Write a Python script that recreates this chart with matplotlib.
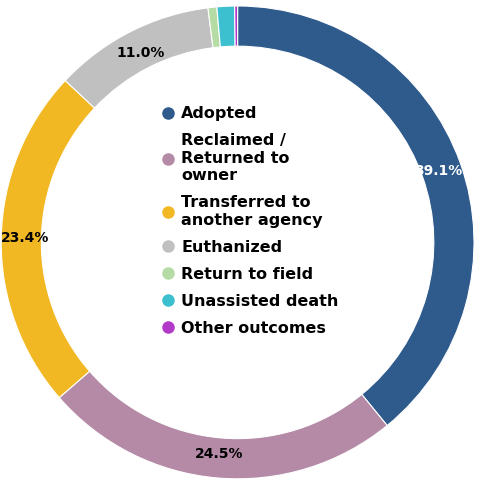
import matplotlib
matplotlib.use("Agg")
import matplotlib.pyplot as plt
from matplotlib.lines import Line2D
import numpy as np

labels = ["Adopted", "Reclaimed /\nReturned to\nowner", "Transferred to\nanother agency", "Euthanized",
          "Return to field", "Unassisted death", "Other outcomes"]
values = [39.1, 24.5, 23.4, 11.0, 0.6, 1.2, 0.2]
colors = ["#2e5a8c", "#b48aa7", "#f2b824", "#c0c0c0", "#b5dca5", "#3cbfcf", "#b23ac9"]
pct_labels = ["39.1%", "24.5%", "23.4%", "11.0%", "", "", ""]
pct_colors = ["white", "black", "black", "black", "black", "black", "black"]

fig = plt.figure(figsize=(4.8, 4.8), dpi=100)
ax = fig.add_axes([0.0, 0.0, 0.99, 0.99])
wedges, _ = ax.pie(values, colors=colors, startangle=90, counterclock=False,
                   wedgeprops=dict(width=0.17, edgecolor="white", linewidth=0.8))
for w, t, c in zip(wedges, pct_labels, pct_colors):
    if not t:
        continue
    ang = np.deg2rad((w.theta1 + w.theta2) / 2)
    r = 0.9
    ax.text(r * np.cos(ang), r * np.sin(ang), t, ha="center", va="center",
            fontsize=10, fontweight="bold", color=c)
ax.set_aspect("equal")
ax.set_xlim(-1.005, 1.005)
ax.set_ylim(-1.005, 1.005)

handles = [Line2D([0], [0], marker="o", linestyle="", markersize=8, markerfacecolor=c,
                  markeredgecolor=c) for c in colors]
ax.legend(handles, labels, loc="center", bbox_to_anchor=(0.525, 0.545), frameon=False,
          prop=dict(weight="bold", size=11.5), handletextpad=0.3, labelspacing=0.75,
          handlelength=1.0)
fig.savefig("out.png", dpi=100)
